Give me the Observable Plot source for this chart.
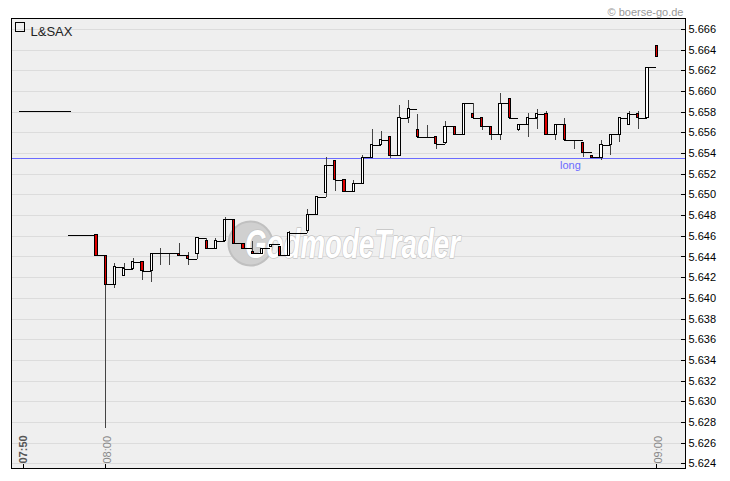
<!DOCTYPE html>
<html><head><meta charset="utf-8">
<script src="https://cdn.jsdelivr.net/npm/d3@7"></script>
<script src="https://cdn.jsdelivr.net/npm/@observablehq/plot@0.6"></script>
<style>
body{margin:0;background:#fff;}
#chart{width:730px;height:481px;}
</style>
</head><body><div id="chart"></div>
<script>
// ---- data (one candle per minute slot; 07:50 = slot 0, 08:00 = slot 9, 09:00 = slot 69) ----
const seriesName = "L&SAX";
const slots  = [5,8,9,10,11,12,13,14,15,16,17,18,19,20,21,22,23,24,25,26,27,28,29,30,31,32,33,34,35,36,37,38,39,40,41,42,43,44,45,46,47,48,49,50,51,52,53,54,55,56,57,58,59,60,61,62,63,64,65,66,67,68,69];
const opens  = [5.6461,5.6461,5.6441,5.6413,5.6422,5.6428,5.6435,5.6426,5.6443,5.6443,5.6443,5.6441,5.6443,5.6455,5.6448,5.6455,5.6476,5.6453,5.6445,5.6443,5.6450,5.6450,5.6441,5.6463,5.6465,5.6481,5.6502,5.6533,5.6514,5.6503,5.6511,5.6536,5.6548,5.6556,5.6538,5.6574,5.6563,5.6556,5.6556,5.6550,5.6566,5.6558,5.6578,5.6574,5.6566,5.6558,5.6593,5.6563,5.6568,5.6574,5.6578,5.6558,5.6568,5.6553,5.6550,5.6538,5.6536,5.6548,5.6558,5.6568,5.6578,5.6574,5.6644];
const highs  = [5.6461,5.6461,5.6441,5.6434,5.6434,5.6439,5.6435,5.6443,5.6448,5.6443,5.6453,5.6444,5.6458,5.6458,5.6458,5.6478,5.6476,5.6453,5.6455,5.6448,5.6452,5.6450,5.6465,5.6463,5.6486,5.6498,5.6536,5.6533,5.6514,5.6514,5.6538,5.6563,5.6561,5.6556,5.6586,5.6591,5.6578,5.6567,5.6556,5.6571,5.6566,5.6588,5.6588,5.6574,5.6566,5.6598,5.6593,5.6568,5.6579,5.6583,5.6581,5.6568,5.6574,5.6553,5.6550,5.6538,5.6553,5.6558,5.6574,5.6581,5.6581,5.6623,5.6644];
const lows   = [5.6461,5.6441,5.6274,5.6410,5.6422,5.6428,5.6417,5.6415,5.6432,5.6432,5.6441,5.6432,5.6438,5.6448,5.6448,5.6455,5.6453,5.6448,5.6443,5.6443,5.6450,5.6441,5.6441,5.6463,5.6463,5.6481,5.6498,5.6503,5.6503,5.6503,5.6511,5.6536,5.6548,5.6535,5.6538,5.6569,5.6556,5.6556,5.6544,5.6549,5.6558,5.6558,5.6574,5.6562,5.6553,5.6553,5.6574,5.6561,5.6556,5.6563,5.6558,5.6553,5.6553,5.6544,5.6536,5.6536,5.6533,5.6538,5.6551,5.6568,5.6563,5.6574,5.6633];
const closes = [5.6461,5.6441,5.6413,5.6430,5.6428,5.6435,5.6426,5.6443,5.6443,5.6443,5.6441,5.6438,5.6458,5.6448,5.6455,5.6476,5.6453,5.6448,5.6443,5.6448,5.6452,5.6441,5.6463,5.6463,5.6481,5.6498,5.6528,5.6514,5.6503,5.6511,5.6536,5.6548,5.6553,5.6538,5.6574,5.6583,5.6556,5.6556,5.6549,5.6566,5.6558,5.6588,5.6574,5.6566,5.6558,5.6588,5.6574,5.6568,5.6574,5.6578,5.6558,5.6568,5.6553,5.6553,5.6541,5.6536,5.6548,5.6558,5.6574,5.6578,5.6574,5.6623,5.6633];

const xTickSlots  = [0, 9, 69];
const xTickLabels = ["07:50", "08:00", "09:00"];
const yTicks = [5.624,5.626,5.628,5.630,5.632,5.634,5.636,5.638,5.640,5.642,5.644,5.646,5.648,5.650,5.652,5.654,5.656,5.658,5.660,5.662,5.664,5.666];

const longLevel = 5.6535;
const longLabel = "long";
const longLabelSlot = 59.6;

const refLevel = 5.6581;      // short reference line at the left
const refFrom = -0.4, refTo = 5.3;

const copyright = "© boerse-go.de";
const watermark = "GodmodeTrader";

// ---- build ----
const candles = slots.map((s, i) => ({slot: s, open: opens[i], high: highs[i], low: lows[i], close: closes[i]}));
const steps = candles.slice(0, -1).map((c, i) => ({x1: c.slot, x2: candles[i + 1].slot, y: c.close}));
const halfW = 0.12;
const crisp = "crispEdges";

const chart = Plot.plot({
  width: 730, height: 481,
  marginLeft: 11, marginRight: 45, marginTop: 18, marginBottom: 13,
  style: {background: "#fff", fontFamily: "'Liberation Sans', Arial, sans-serif", fontSize: "11px", overflow: "visible"},
  x: {domain: [-1.26, 72.14], axis: null},
  y: {domain: [5.62355, 5.66706], axis: null},
  color: {type: "identity"},
  marks: [
    Plot.frame({fill: "#efefef"}),
    Plot.ruleY(yTicks, {stroke: "#dcdcdc", shapeRendering: crisp}),
    // watermark
    Plot.dot([watermark], {frameAnchor: "middle", dx: -98, dy: 0, r: 22, fill: "#d0d0d0", stroke: "#c0c0c0", strokeWidth: 2}),
    Plot.text([watermark], {frameAnchor: "middle", dx: 4, dy: 2, text: d => d, fontSize: 40, fontWeight: "bold", fontStyle: "italic",
      fontFamily: "'Liberation Sans',sans-serif", fill: "#ffffff", stroke: "#c4c4c4", strokeWidth: 1.5, paintOrder: "stroke",
      className: "wm"}),
    // long line
    Plot.ruleY([longLevel], {stroke: "#6b6bff", shapeRendering: crisp}),
    Plot.text([longLabel], {x: longLabelSlot, y: longLevel, text: d => d, lineAnchor: "top", dy: 2, fill: "#6b6bff", fontSize: 11}),
    // reference line
    Plot.ruleY([refLevel], {x1: refFrom, x2: refTo, stroke: "#000", shapeRendering: crisp}),
    // wicks
    Plot.ruleX(candles, {x: "slot", y1: "low", y2: "high", stroke: "#444", shapeRendering: crisp}),
    // connecting close lines
    Plot.ruleY(steps, {y: "y", x1: "x1", x2: "x2", stroke: "#000", strokeWidth: 1, shapeRendering: crisp}),
    // bodies
    Plot.rect(candles, {x1: d => d.slot - halfW, x2: d => d.slot + halfW, y1: "open", y2: "close",
      fill: d => d.close < d.open ? "#e00000" : "#ffffff", stroke: "#000", strokeWidth: 1, shapeRendering: crisp}),
    // y axis (right), ticks inward
    Plot.tickY(yTicks, {y: d => d, insetLeft: 670, stroke: "#000", shapeRendering: crisp}),
    Plot.axisY(yTicks, {anchor: "right", tickSize: 0, tickPadding: 3, tickFormat: d3.format(".3f"), fontSize: 11, fill: "#000"}),
    // x axis ticks inward + rotated labels
    Plot.tickX(xTickSlots, {x: d => d, insetTop: 446, stroke: "#000", shapeRendering: crisp}),
    Plot.text([xTickSlots[0]], {x: d => d, text: () => xTickLabels[0], frameAnchor: "bottom", rotate: -90, textAnchor: "start",
      dy: -5, dx: 3.5, fill: "#555", fontWeight: "bold", fontSize: 11}),
    Plot.text(xTickSlots.slice(1), {x: d => d, text: (d, i) => xTickLabels[i + 1], frameAnchor: "bottom", rotate: -90, textAnchor: "start",
      dy: -5, dx: 5, fill: "#888", fontSize: 11}),
    // legend
    Plot.dot([seriesName], {frameAnchor: "top-left", dx: 8.5, dy: 8.5, symbol: "square", r: 5, fill: "none", stroke: "#000", shapeRendering: crisp}),
    Plot.text([seriesName], {frameAnchor: "top-left", dx: 19, dy: 8.5, text: d => d, textAnchor: "start", fontSize: 13, fill: "#222"}),
    // copyright
    Plot.text([copyright], {frameAnchor: "top-right", dx: -2, dy: -10, text: d => d, textAnchor: "end", fill: "#999", fontSize: 11}),
    Plot.frame({stroke: "#000", shapeRendering: crisp})
  ]
});
// condense the watermark to the reference width
d3.select(chart).selectAll("g.wm text").attr("textLength", 215).attr("lengthAdjust", "spacingAndGlyphs");
document.getElementById("chart").appendChild(chart);
</script>
</body></html>
